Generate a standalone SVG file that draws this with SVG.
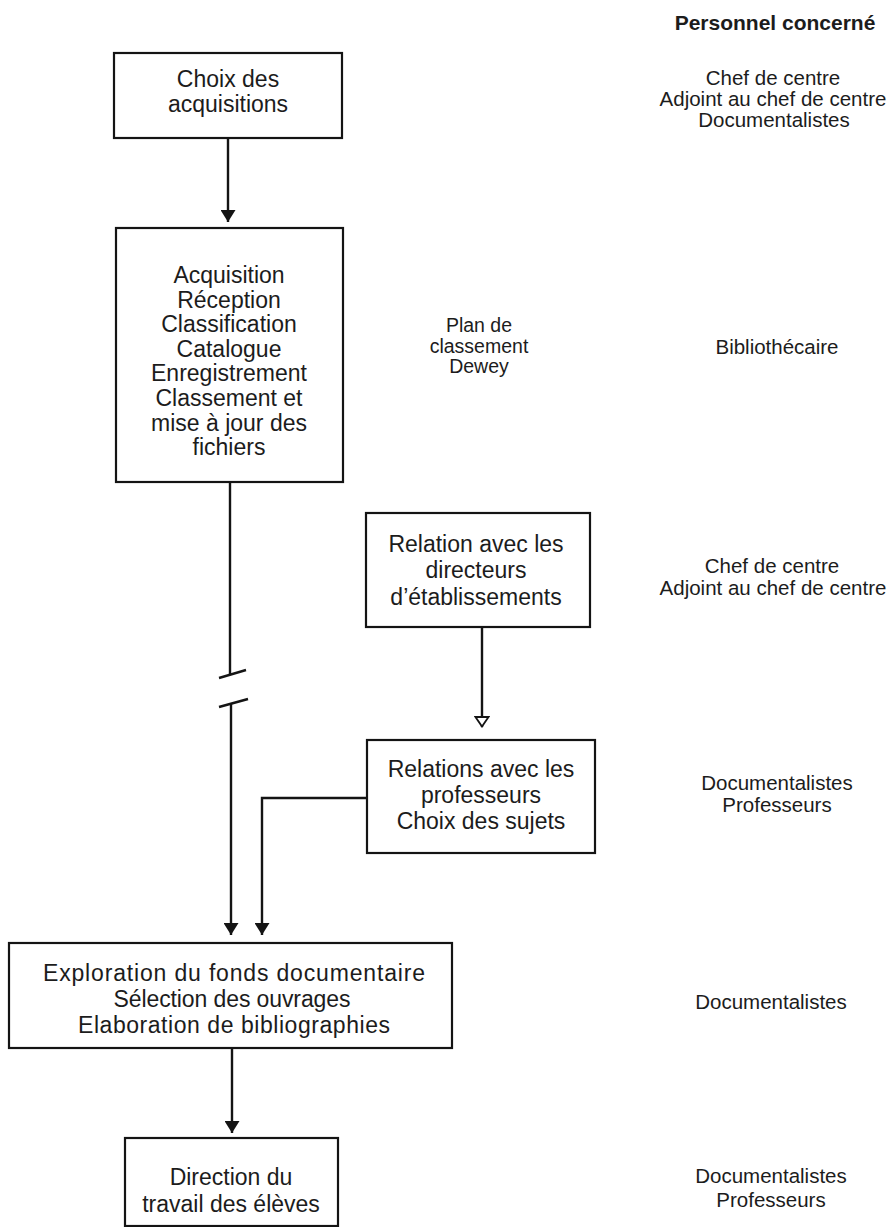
<svg xmlns="http://www.w3.org/2000/svg" width="894" height="1227" viewBox="0 0 894 1227">
  <defs>
    <style>
      .box { fill: #ffffff; stroke: #141414; stroke-width: 2.2; }
      .lbl { font-family: "Liberation Sans", Arial, sans-serif; font-size: 23px; fill: #1c1c1c; text-anchor: middle; }
      .side { font-family: "Liberation Sans", Arial, sans-serif; font-size: 20.5px; fill: #1c1c1c; text-anchor: middle; }
      .note { font-family: "Liberation Sans", Arial, sans-serif; font-size: 19.5px; fill: #1c1c1c; text-anchor: middle; }
      .head { font-family: "Liberation Sans", Arial, sans-serif; font-size: 21px; font-weight: bold; fill: #1c1c1c; text-anchor: middle; }
      .wire { fill: none; stroke: #141414; stroke-width: 2.4; }
    </style>
    <marker id="arrow" viewBox="0 0 12 15" refX="12" refY="7.5" markerWidth="12" markerHeight="15" markerUnits="userSpaceOnUse" orient="auto">
      <path d="M0,0 L12,7.5 L0,15 z" fill="#141414"/>
    </marker>
    <marker id="open-arrow" viewBox="0 0 12 16" refX="11" refY="8" markerWidth="12" markerHeight="16" markerUnits="userSpaceOnUse" orient="auto">
      <path d="M1,1.5 L10.5,8 L1,14.5 z" fill="#ffffff" stroke="#141414" stroke-width="1.8"/>
    </marker>
  </defs>

  <rect width="894" height="1227" fill="#ffffff"/>

  <!-- column heading -->
  <text class="head" x="775" y="30">Personnel concerné</text>

  <!-- connectors -->
  <g id="connectors">
    <path class="wire" d="M228,138 V222" marker-end="url(#arrow)"/>
    <!-- long line with break symbol -->
    <path class="wire" d="M230,482 V674"/>
    <path class="wire" d="M219,678 L246,670"/>
    <path class="wire" d="M219,707 L248,699"/>
    <path class="wire" d="M231,703 V935" marker-end="url(#arrow)"/>
    <path class="wire" d="M482,627 V727" marker-end="url(#open-arrow)"/>
    <path class="wire" d="M367,798 H262 V935" marker-end="url(#arrow)"/>
    <path class="wire" d="M232,1048 V1133" marker-end="url(#arrow)"/>
  </g>

  <g id="choix-acquisitions">
    <rect class="box" x="114" y="53" width="228" height="85"/>
    <text class="lbl" x="228" y="87">Choix des</text>
    <text class="lbl" x="228" y="112">acquisitions</text>
    <text class="side" x="773" y="85">Chef de centre</text>
    <text class="side" x="773" y="106">Adjoint au chef de centre</text>
    <text class="side" x="774" y="127">Documentalistes</text>
  </g>

  <g id="traitement">
    <rect class="box" x="116" y="228" width="227" height="254"/>
    <text class="lbl" x="229" y="283">Acquisition</text>
    <text class="lbl" x="229" y="307.6">Réception</text>
    <text class="lbl" x="229" y="332.2">Classification</text>
    <text class="lbl" x="229" y="356.8">Catalogue</text>
    <text class="lbl" x="229" y="381.4">Enregistrement</text>
    <text class="lbl" x="229" y="406">Classement et</text>
    <text class="lbl" x="229" y="430.6">mise à jour des</text>
    <text class="lbl" x="229" y="455.2">fichiers</text>
    <text class="note" x="479" y="332">Plan de</text>
    <text class="note" x="479" y="353">classement</text>
    <text class="note" x="479" y="373">Dewey</text>
    <text class="side" x="777" y="354">Bibliothécaire</text>
  </g>

  <g id="relation-directeurs">
    <rect class="box" x="366" y="513" width="224" height="114"/>
    <text class="lbl" x="476" y="552">Relation avec les</text>
    <text class="lbl" x="476" y="578">directeurs</text>
    <text class="lbl" x="476" y="605">d’établissements</text>
    <text class="side" x="772" y="573">Chef de centre</text>
    <text class="side" x="773" y="595">Adjoint au chef de centre</text>
  </g>

  <g id="relations-professeurs">
    <rect class="box" x="367" y="740" width="228" height="113"/>
    <text class="lbl" x="481" y="777">Relations avec les</text>
    <text class="lbl" x="481" y="803">professeurs</text>
    <text class="lbl" x="481" y="829">Choix des sujets</text>
    <text class="side" x="777" y="790">Documentalistes</text>
    <text class="side" x="777" y="812">Professeurs</text>
  </g>

  <g id="exploration">
    <rect class="box" x="9" y="943" width="443" height="105"/>
    <text class="lbl" x="234" y="981" textLength="382" lengthAdjust="spacing">Exploration du fonds documentaire</text>
    <text class="lbl" x="232" y="1007" textLength="237" lengthAdjust="spacing">Sélection des ouvrages</text>
    <text class="lbl" x="234" y="1033" textLength="312" lengthAdjust="spacing">Elaboration de bibliographies</text>
    <text class="side" x="771" y="1009">Documentalistes</text>
  </g>

  <g id="direction-travail">
    <rect class="box" x="125" y="1138" width="213" height="88"/>
    <text class="lbl" x="231" y="1185">Direction du</text>
    <text class="lbl" x="231" y="1212">travail des élèves</text>
    <text class="side" x="771" y="1183">Documentalistes</text>
    <text class="side" x="771" y="1207">Professeurs</text>
  </g>
</svg>
